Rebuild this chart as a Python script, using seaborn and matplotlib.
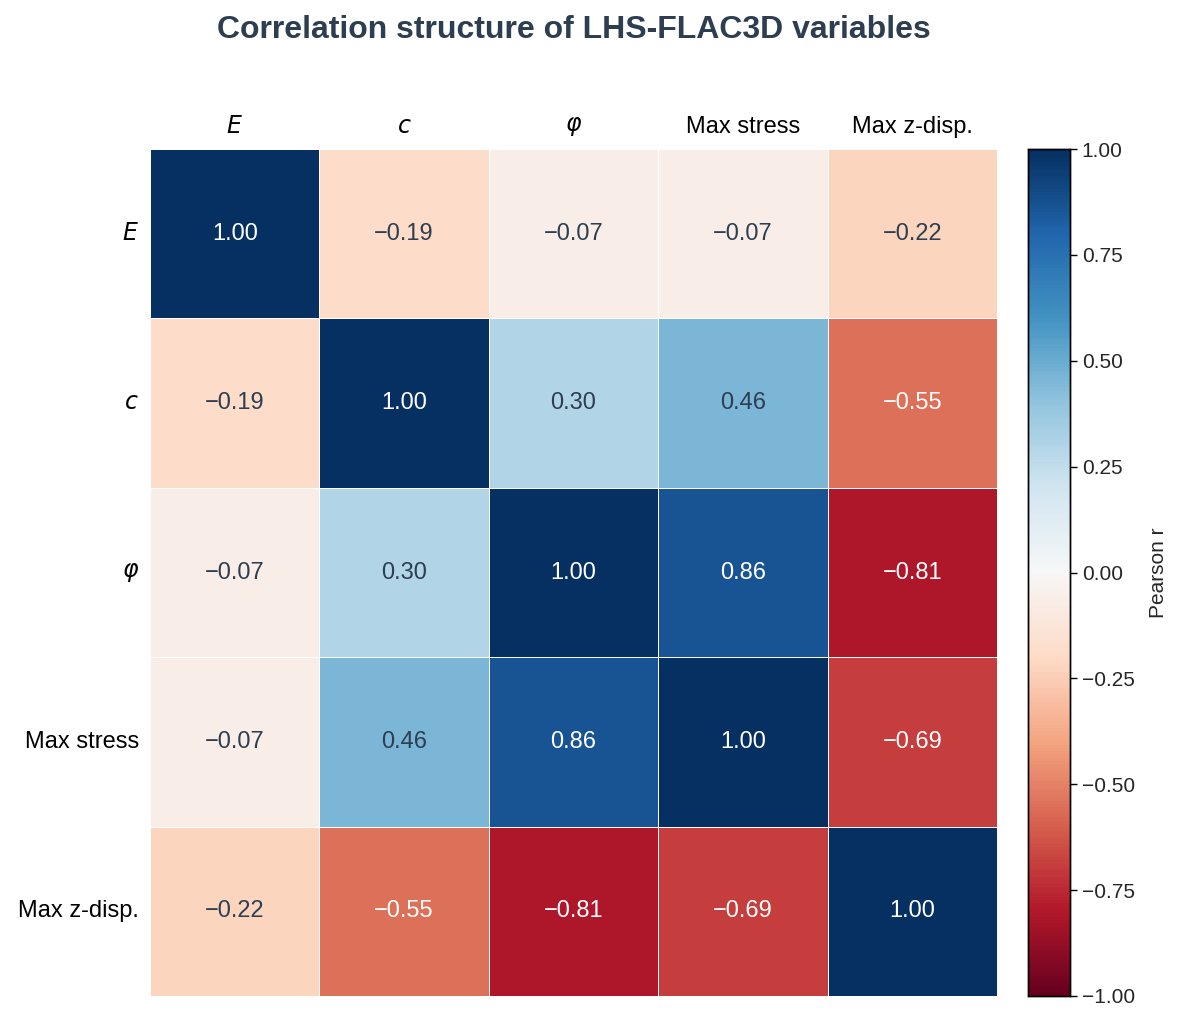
import numpy as np
import pandas as pd
import matplotlib
matplotlib.use("Agg")
import matplotlib.pyplot as plt
import matplotlib.ticker as mticker
import seaborn as sns

# Variables and correlation values
labels = ["$E$", "$c$", r"$\varphi$", "Max stress", "Max z-disp."]
row_E = [1.00, -0.19, -0.07, -0.07, -0.22]
row_c = [-0.19, 1.00, 0.30, 0.46, -0.55]
row_phi = [-0.07, 0.30, 1.00, 0.86, -0.81]
row_stress = [-0.07, 0.46, 0.86, 1.00, -0.69]
row_zdisp = [-0.22, -0.55, -0.81, -0.69, 1.00]
cbar_ticks = [-1, -0.75, -0.5, -0.25, 0, 0.25, 0.5, 0.75, 1]

sns.set_theme(style="white")
plt.rcParams['font.family'] = ['Liberation Sans', 'DejaVu Sans']
plt.rcParams['mathtext.fontset'] = 'dejavusans'


def fmt_minus(v):
    return f"{v:.2f}".replace("-", "\u2212")


corr = pd.DataFrame([row_E, row_c, row_phi, row_stress, row_zdisp],
                    index=labels, columns=labels)
annot = corr.map(fmt_minus).values

fig = plt.figure(figsize=(11.86, 10.21), dpi=100)
ax = fig.add_axes([0.1265, 0.0245, 0.7141, 0.8295])
cax = fig.add_axes([0.8668, 0.0245, 0.0354, 0.8295])

sns.heatmap(corr, ax=ax, cbar_ax=cax, cmap="RdBu", vmin=-1, vmax=1,
            annot=annot, fmt="", annot_kws={"fontsize": 17},
            linewidths=0.6, linecolor="white",
            cbar_kws={"ticks": cbar_ticks})

# dark slate text on light cells instead of plain black
for t in ax.texts:
    if t.get_color() not in ("#fff", "w", "white", (1, 1, 1)):
        t.set_color("#2c3e50")

ax.xaxis.tick_top()
ax.tick_params(length=0, labelsize=17, pad=8)
ax.set_xticklabels(labels, rotation=0, color="black")
ax.set_yticklabels(labels, rotation=0, color="black")
ax.set_xlabel("")
ax.set_ylabel("")

cax.tick_params(labelsize=15, length=5, width=1, color="black", left=False, right=True)
cax.yaxis.set_major_formatter(mticker.FuncFormatter(lambda v, p: fmt_minus(v)))
for s in cax.spines.values():
    s.set_visible(True)
    s.set_color("black")
    s.set_linewidth(1)
cax.set_ylabel("Pearson r", fontsize=15, labelpad=10)

fig.text(0.4836, 0.971, "Correlation structure of LHS-FLAC3D variables",
         ha="center", va="center", fontsize=23, fontweight="bold", color="#2c3e50")

fig.savefig("out.png", dpi=100)
